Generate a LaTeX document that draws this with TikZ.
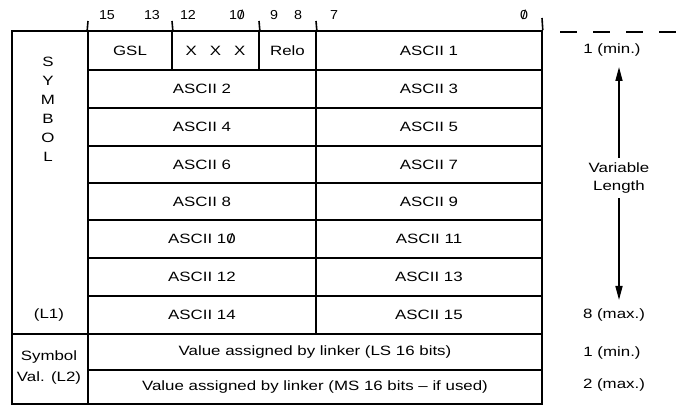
\documentclass[tikz,border=0pt]{standalone}
\usepackage{fontspec}
\setmainfont{Liberation Sans}[FakeStretch=1.25]
\newfontfamily\bitfont{Liberation Sans}[FakeStretch=1.1]
\usetikzlibrary{arrows.meta}
\newcommand\szero{\ooalign{0\cr\hidewidth/\hidewidth\cr}}
\begin{document}
\begin{tikzpicture}[x=1pt,y=-1pt,
  cell/.style={draw,line width=1.6pt,inner sep=0pt,font=\fontsize{13.5}{15}\selectfont},
  lbl/.style={inner sep=1pt,font=\fontsize{13.5}{15}\selectfont},
  bitnum/.style={inner sep=0pt,font=\bitfont\fontsize{13}{14}\selectfont},
  tick/.style={line width=1.6pt},
  vlarrow/.style={line width=1.6pt,-{Triangle[length=14pt,width=7pt]}}]
\useasboundingbox (0,0) rectangle (681,409);
% left column
\node[cell,minimum width=76pt,minimum height=303pt] (symcol) at (50,182.5) {};
\node[cell,minimum width=76pt,minimum height=70pt] (valcol) at (50,369) {};
% row 1
\node[cell,minimum width=84pt,minimum height=39pt] (gsl) at (130,50.5) {GSL};
\node[cell,minimum width=87pt,minimum height=39pt] (xxx) at (215.5,50.5) {X\hspace{13pt}X\hspace{13pt}X};
\node[cell,minimum width=57pt,minimum height=39pt] (relo) at (287.5,50.5) {Relo};
\node[cell,minimum width=226pt,minimum height=39pt] (a1) at (429,50.5) {ASCII 1};
% rows 2-8
\node[cell,minimum width=228pt,minimum height=38pt] (a2) at (202,89) {ASCII 2};
\node[cell,minimum width=226pt,minimum height=38pt] (a3) at (429,89) {ASCII 3};
\node[cell,minimum width=228pt,minimum height=38pt] (a4) at (202,127) {ASCII 4};
\node[cell,minimum width=226pt,minimum height=38pt] (a5) at (429,127) {ASCII 5};
\node[cell,minimum width=228pt,minimum height=37pt] (a6) at (202,164.5) {ASCII 6};
\node[cell,minimum width=226pt,minimum height=37pt] (a7) at (429,164.5) {ASCII 7};
\node[cell,minimum width=228pt,minimum height=37pt] (a8) at (202,201.5) {ASCII 8};
\node[cell,minimum width=226pt,minimum height=37pt] (a9) at (429,201.5) {ASCII 9};
\node[cell,minimum width=228pt,minimum height=38pt] (a10) at (202,239) {ASCII 1\szero};
\node[cell,minimum width=226pt,minimum height=38pt] (a11) at (429,239) {ASCII 11};
\node[cell,minimum width=228pt,minimum height=38pt] (a12) at (202,277) {ASCII 12};
\node[cell,minimum width=226pt,minimum height=38pt] (a13) at (429,277) {ASCII 13};
\node[cell,minimum width=228pt,minimum height=38pt] (a14) at (202,315) {ASCII 14};
\node[cell,minimum width=226pt,minimum height=38pt] (a15) at (429,315) {ASCII 15};
% rows 9-10
\node[cell,minimum width=454pt,minimum height=36pt] (ls) at (315,352) {Value assigned by linker (LS 16 bits)};
\node[cell,minimum width=454pt,minimum height=34pt] (ms) at (315,387) {Value assigned by linker (MS 16 bits -- if used)};
% left labels
\node[lbl,align=center,font=\fontsize{13.5}{19}\selectfont] (symtxt) at (48,109) {S\\Y\\M\\B\\O\\L};
\node[lbl] (l1) at (49,315) {(L1)};
\node[lbl,align=center,font=\fontsize{13.5}{21}\selectfont] (l2) at (49,367.5) {Symbol\\Val. (L2)};
% bit numbers
\node[bitnum] (b15) at (107,15) {15};
\node[bitnum] (b13) at (152,15) {13};
\node[bitnum] (b12) at (188,15) {12};
\node[bitnum] (b10) at (237,15) {1\szero};
\node[bitnum] (b9) at (274,15) {9};
\node[bitnum] (b8) at (298,15) {8};
\node[bitnum] (b7) at (334,15) {7};
\node[bitnum] (b0) at (524,15) {\szero};
% ticks
\coordinate (t1) at (88,21); \coordinate (t2) at (172,21);
\coordinate (t3) at (259,21); \coordinate (t4) at (316,21);
\coordinate (t5) at (542,18);
\draw[tick] (t1) -- (gsl.north west);
\draw[tick] (t2) -- (gsl.north east);
\draw[tick] (t3) -- (xxx.north east);
\draw[tick] (t4) -- (relo.north east);
\draw[tick] (t5) -- (a1.north east);
% dashed line
\coordinate (d0) at (560,32); \coordinate (d1) at (681,32);
\draw[line width=1.6pt,dash pattern=on 17pt off 16pt] (d0) -- (d1);
% right labels
\node[lbl] (min1) at (612,50) {1 (min.)};
\node[lbl] (max8) at (614,315) {8 (max.)};
\node[lbl] (min1b) at (612,353) {1 (min.)};
\node[lbl] (max2) at (614,385) {2 (max.)};
\node[lbl,align=center,inner sep=5pt,font=\fontsize{13.5}{18}\selectfont] (vl) at (619,178) {Variable\\Length};
\coordinate (vtop) at (619,67); \coordinate (vbot) at (619,300);
\draw[vlarrow] (vl.north) -- (vtop);
\draw[vlarrow] (vl.south) -- (vbot);
\end{tikzpicture}
\end{document}
